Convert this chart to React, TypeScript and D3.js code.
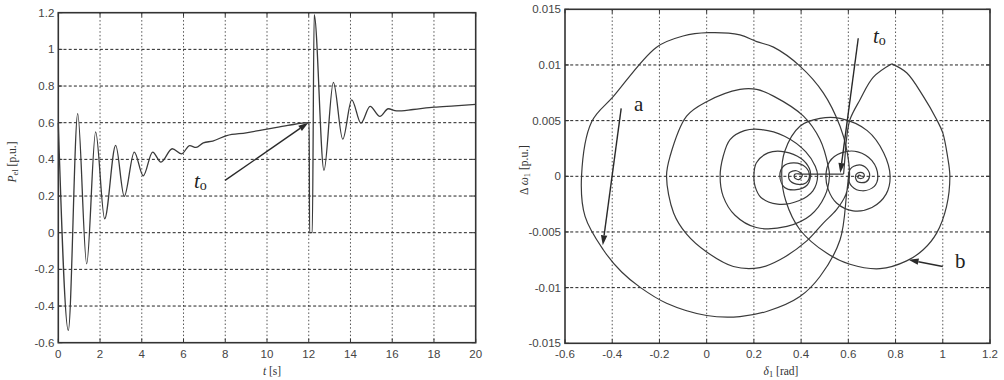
import React from "react";
import * as d3 from "d3";

const W = 1004;
const H = 380;

// ---- Left panel: electrical power P_el of generator 1 over time ----
const timeTicks = [0, 2, 4, 6, 8, 10, 12, 14, 16, 18, 20];
const powerTicks = [-0.6, -0.4, -0.2, 0, 0.2, 0.4, 0.6, 0.8, 1, 1.2];
const powerTickLabels = ["-0.6", "-0.4", "-0.2", "0", "0.2", "0.4", "0.6", "0.8", "1", "1.2"];

const timeS = [
  0, 0.48, 0.93, 1.36, 1.79, 2.22, 2.75, 3.16, 3.64, 4.07, 4.52, 4.92, 5.46, 5.9,
  6.3, 6.6, 6.95, 7.4, 8.07, 9.0, 10.0, 11.0, 11.98, 12.02, 12.04, 12.17, 12.26,
  12.73, 13.18, 13.63, 14.06, 14.5, 14.94, 15.41, 15.81, 16.21, 17.0, 18.0, 19.0, 20.0,
];
const powerPu = [
  0.6, -0.533, 0.65, -0.17, 0.55, 0.076, 0.476, 0.198, 0.44, 0.31, 0.44, 0.385, 0.458, 0.43,
  0.475, 0.465, 0.49, 0.5, 0.53, 0.545, 0.565, 0.585, 0.6, 0.6, 0.0, 0.0, 1.19,
  0.34, 0.82, 0.51, 0.725, 0.598, 0.689, 0.634, 0.676, 0.664, 0.672, 0.685, 0.692, 0.7,
];

// ---- Right panel: phase plane (delta_1, delta omega_1) ----
const deltaTicks = [-0.6, -0.4, -0.2, 0, 0.2, 0.4, 0.6, 0.8, 1, 1.2];
const deltaTickLabels = ["-0.6", "-0.4", "-0.2", "0", "0.2", "0.4", "0.6", "0.8", "1", "1.2"];
const omegaTicks = [-0.015, -0.01, -0.005, 0, 0.005, 0.01, 0.015];
const omegaTickLabels = ["-0.015", "-0.01", "-0.005", "0", "0.005", "0.01", "0.015"];

// trajectory a: first disturbance, spiralling in, then slow drift to the pre-fault point
const swingA: [number, number][] = [
  [0.6, -0.0002], [0.593, -0.0015], [0.565, -0.0057], [0.48, -0.009], [0.395, -0.0108],
  [0.26, -0.0121], [0.141, -0.0126], [0.0, -0.0125], [-0.17, -0.0114], [-0.28, -0.01],
  [-0.36, -0.0086], [-0.438, -0.0066], [-0.515, -0.0036], [-0.53, 0.0],
  [-0.487, 0.0049], [-0.396, 0.00715], [-0.212, 0.0116], [-0.1, 0.0126], [0.007, 0.0129],
  [0.141, 0.0127], [0.212, 0.0121], [0.283, 0.0116], [0.395, 0.0099], [0.494, 0.0075],
  [0.565, 0.0045], [0.593, 0.0024], [0.605, 0.0],
  [0.59, -0.0016], [0.55, -0.003], [0.494, -0.0042], [0.424, -0.0058], [0.31, -0.0075],
  [0.226, -0.0082], [0.113, -0.0081], [0.0, -0.0068], [-0.085, -0.0052], [-0.14, -0.0033], [-0.17, 0.0],
  [-0.155, 0.0018], [-0.085, 0.0054], [0.0, 0.0067], [0.141, 0.0078], [0.212, 0.0078],
  [0.283, 0.0072], [0.41, 0.0054], [0.48, 0.0033], [0.515, 0.0009], [0.52, 0.0],
  [0.5, -0.0018], [0.44, -0.0035], [0.34, -0.0045], [0.21, -0.0046], [0.12, -0.0035], [0.07, -0.0018], [0.057, 0.0],
  [0.07, 0.0018], [0.099, 0.0033], [0.16, 0.0041], [0.233, 0.0042], [0.33, 0.0036], [0.42, 0.0022], [0.46, 0.0009], [0.47, 0.0],
  [0.45, -0.0013], [0.39, -0.0022], [0.3, -0.0025], [0.23, -0.0019], [0.205, -0.0009], [0.2, 0.0],
  [0.21, 0.0012], [0.26, 0.0021], [0.33, 0.0022], [0.4, 0.0016], [0.435, 0.0007], [0.44, 0.0],
  [0.425, -0.0008], [0.38, -0.0012], [0.33, -0.001], [0.31, 0.0],
  [0.325, 0.0009], [0.37, 0.0012], [0.42, 0.0008], [0.435, 0.0],
  [0.42, -0.0006], [0.38, -0.0007], [0.35, -0.0003], [0.35, 0.0003], [0.38, 0.0005], [0.405, 0.0001],
  [0.39, -0.0003], [0.372, -0.0001], [0.375, 0.0002], [0.4, 0.0002], [0.45, 0.0002], [0.52, 0.0002], [0.58, 0.0002],
];

// trajectory b, fault-on part: from t_o up to the clearing point
const swingBFault: [number, number][] = [
  [0.58, 0.0002], [0.585, 0.0015], [0.592, 0.0033], [0.607, 0.0051], [0.65, 0.0069],
  [0.706, 0.0089], [0.784, 0.0101],
];

// trajectory b, post-fault part: from the clearing point to the new operating point
const swingBPost: [number, number][] = [
  [0.784, 0.0101], [0.847, 0.0093], [0.917, 0.0072], [0.974, 0.0051], [1.0, 0.0039], [1.02, 0.0018], [1.03, 0.0],
  [1.016, -0.0027], [0.974, -0.0051], [0.917, -0.0066], [0.847, -0.0076], [0.734, -0.0083],
  [0.607, -0.0079], [0.508, -0.0069], [0.395, -0.0048], [0.335, -0.0022], [0.318, 0.0],
  [0.33, 0.0022], [0.395, 0.0045], [0.48, 0.0052], [0.565, 0.0052], [0.68, 0.0041], [0.75, 0.0021], [0.777, 0.0],
  [0.76, -0.0016], [0.7, -0.0028], [0.62, -0.0031], [0.55, -0.0024], [0.515, -0.0012], [0.505, 0.0],
  [0.52, 0.0013], [0.57, 0.0021], [0.64, 0.0022], [0.7, 0.0014], [0.725, 0.0],
  [0.71, -0.0009], [0.66, -0.0013], [0.615, -0.0009], [0.6, 0.0],
  [0.615, 0.0008], [0.655, 0.001], [0.685, 0.0005], [0.69, 0.0],
  [0.675, -0.0005], [0.64, -0.0005], [0.63, 0.0],
  [0.64, 0.0003], [0.662, 0.0003], [0.667, 0.0], [0.655, -0.0002], [0.64, -0.0001], [0.645, 0.0001], [0.655, 0.0],
];

// annotation anchors in data units
const leftArrow = { from: [7.99, 0.285], to: [11.98, 0.6] };
const arrowA = { from: [-0.362, 0.0061], to: [-0.44, -0.0062] };
const arrowB = { from: [1.0, -0.0081], to: [0.855, -0.0075] };
const arrowT0 = { from: [0.642, 0.0124], to: [0.566, 0.0003] };

const TICK_FONT = "'Liberation Sans', Arial, sans-serif";
const SERIF = "'Liberation Serif', 'Times New Roman', serif";
const CURVE = "#3a3a3a";

type Scale = d3.ScaleLinear<number, number>;

function Arrow({ x1, y1, x2, y2, head = 10, wide = 3.2 }: { x1: number; y1: number; x2: number; y2: number; head?: number; wide?: number }) {
  const dx = x2 - x1;
  const dy = y2 - y1;
  const len = Math.hypot(dx, dy);
  const ux = dx / len;
  const uy = dy / len;
  const bx = x2 - ux * head;
  const by = y2 - uy * head;
  const pts = `${x2},${y2} ${bx - uy * wide},${by + ux * wide} ${bx + uy * wide},${by - ux * wide}`;
  return (
    <g>
      <line x1={x1} y1={y1} x2={bx} y2={by} stroke="#2a2a2a" strokeWidth={1.4} />
      <polygon points={pts} fill="#2a2a2a" />
    </g>
  );
}

function Frame({
  x, y, xTicks, yTicks, xLabels, yLabels,
}: {
  x: Scale; y: Scale; xTicks: number[]; yTicks: number[]; xLabels: string[]; yLabels: string[];
}) {
  const [x0, x1] = x.range();
  const [y0, y1] = y.range(); // y0 bottom, y1 top
  const tick = 4;
  return (
    <g>
      {xTicks.slice(1, -1).map((t) => (
        <line key={"vg" + t} x1={x(t)} x2={x(t)} y1={y1} y2={y0} stroke="#555" strokeWidth={1} strokeDasharray="1.5,2.2" />
      ))}
      {yTicks.slice(1, -1).map((t) => (
        <line key={"hg" + t} x1={x0} x2={x1} y1={y(t)} y2={y(t)} stroke="#222" strokeWidth={1} strokeDasharray="3,2.2" />
      ))}
      {xTicks.map((t) => (
        <g key={"xt" + t}>
          <line x1={x(t)} x2={x(t)} y1={y0} y2={y0 - tick} stroke="#333" />
          <line x1={x(t)} x2={x(t)} y1={y1} y2={y1 + tick} stroke="#333" />
        </g>
      ))}
      {yTicks.map((t) => (
        <g key={"yt" + t}>
          <line x1={x0} x2={x0 + tick} y1={y(t)} y2={y(t)} stroke="#333" />
          <line x1={x1} x2={x1 - tick} y1={y(t)} y2={y(t)} stroke="#333" />
        </g>
      ))}
      <rect x={x0} y={y1} width={x1 - x0} height={y0 - y1} fill="none" stroke="#333" strokeWidth={1.6} />
      {xTicks.map((t, i) => (
        <text key={"xl" + t} x={x(t)} y={y0 + 15} textAnchor="middle" fontFamily={TICK_FONT} fontSize={11.5} fill="#444">
          {xLabels[i]}
        </text>
      ))}
      {yTicks.map((t, i) => (
        <text key={"yl" + t} x={x0 - 4} y={y(t) + 4} textAnchor="end" fontFamily={TICK_FONT} fontSize={11.5} fill="#444">
          {yLabels[i]}
        </text>
      ))}
    </g>
  );
}

export default function App() {
  // left panel scales
  const xt = d3.scaleLinear().domain([0, 20]).range([58.3, 475.7]);
  const yp = d3.scaleLinear().domain([-0.6, 1.2]).range([342.7, 12.7]);
  // right panel scales
  const xd = d3.scaleLinear().domain([-0.6, 1.2]).range([565, 990]);
  const yw = d3.scaleLinear().domain([-0.015, 0.015]).range([343.3, 9.3]);

  const powerLine = d3
    .line<number>()
    .x((_, i) => xt(timeS[i]))
    .y((v) => yp(v))
    .curve(d3.curveMonotoneX);

  const phaseLine = d3
    .line<[number, number]>()
    .x((d) => xd(d[0]))
    .y((d) => yw(d[1]))
    .curve(d3.curveCatmullRom.alpha(0.5));

  return (
    <svg width={W} height={H} style={{ position: "absolute", left: 0, top: 0, background: "#fff" }}>
      <rect width={W} height={H} fill="#fff" />

      {/* ---------- left panel ---------- */}
      <Frame
        x={xt}
        y={yp}
        xTicks={timeTicks}
        yTicks={powerTicks}
        xLabels={timeTicks.map(String)}
        yLabels={powerTickLabels}
      />
      <path d={powerLine(powerPu) || ""} fill="none" stroke={CURVE} strokeWidth={1.3} strokeLinejoin="round" />
      <Arrow
        x1={xt(leftArrow.from[0])}
        y1={yp(leftArrow.from[1])}
        x2={xt(leftArrow.to[0])}
        y2={yp(leftArrow.to[1])}
      />
      <text x={194} y={188} fontFamily={SERIF} fontSize={21} fill="#222">
        <tspan fontStyle="italic">t</tspan>
        <tspan fontSize={14} dy={2}>o</tspan>
      </text>
      <text transform="translate(16,162) rotate(-90)" textAnchor="middle" fontFamily={SERIF} fontSize={11.5} fill="#333">
        <tspan fontStyle="italic">P</tspan>
        <tspan fontSize={8.5} dy={2}>el</tspan>
        <tspan dy={-2}> [p.u.]</tspan>
      </text>
      <text x={272} y={375} textAnchor="middle" fontFamily={SERIF} fontSize={11.5} fill="#333">
        <tspan fontStyle="italic">t</tspan>
        <tspan>{"  [s]"}</tspan>
      </text>

      {/* ---------- right panel ---------- */}
      <Frame
        x={xd}
        y={yw}
        xTicks={deltaTicks}
        yTicks={omegaTicks}
        xLabels={deltaTickLabels}
        yLabels={omegaTickLabels}
      />
      <path d={phaseLine(swingA) || ""} fill="none" stroke={CURVE} strokeWidth={1.2} strokeLinejoin="round" />
      <path d={phaseLine(swingBFault) || ""} fill="none" stroke={CURVE} strokeWidth={1.2} strokeLinejoin="round" />
      <path d={phaseLine(swingBPost) || ""} fill="none" stroke={CURVE} strokeWidth={1.2} strokeLinejoin="round" />
      <Arrow x1={xd(arrowA.from[0])} y1={yw(arrowA.from[1])} x2={xd(arrowA.to[0])} y2={yw(arrowA.to[1])} />
      <Arrow x1={xd(arrowB.from[0])} y1={yw(arrowB.from[1])} x2={xd(arrowB.to[0])} y2={yw(arrowB.to[1])} />
      <Arrow x1={xd(arrowT0.from[0])} y1={yw(arrowT0.from[1])} x2={xd(arrowT0.to[0])} y2={yw(arrowT0.to[1])} />
      <text x={634} y={111} fontFamily={SERIF} fontSize={21} fill="#222">a</text>
      <text x={955} y={268} fontFamily={SERIF} fontSize={21} fill="#222">b</text>
      <text x={873} y={43} fontFamily={SERIF} fontSize={21} fill="#222">
        <tspan fontStyle="italic">t</tspan>
        <tspan fontSize={14} dy={2}>o</tspan>
      </text>
      <text transform="translate(528,170) rotate(-90)" textAnchor="middle" fontFamily={SERIF} fontSize={11.5} fill="#333">
        <tspan>{"Δ "}</tspan>
        <tspan fontStyle="italic">ω</tspan>
        <tspan fontSize={8.5} dy={2}>1</tspan>
        <tspan dy={-2}> [p.u.]</tspan>
      </text>
      <text x={781} y={375} textAnchor="middle" fontFamily={SERIF} fontSize={11.5} fill="#333">
        <tspan fontStyle="italic">δ</tspan>
        <tspan fontSize={8.5} dy={2}>1</tspan>
        <tspan dy={-2}> [rad]</tspan>
      </text>
    </svg>
  );
}
